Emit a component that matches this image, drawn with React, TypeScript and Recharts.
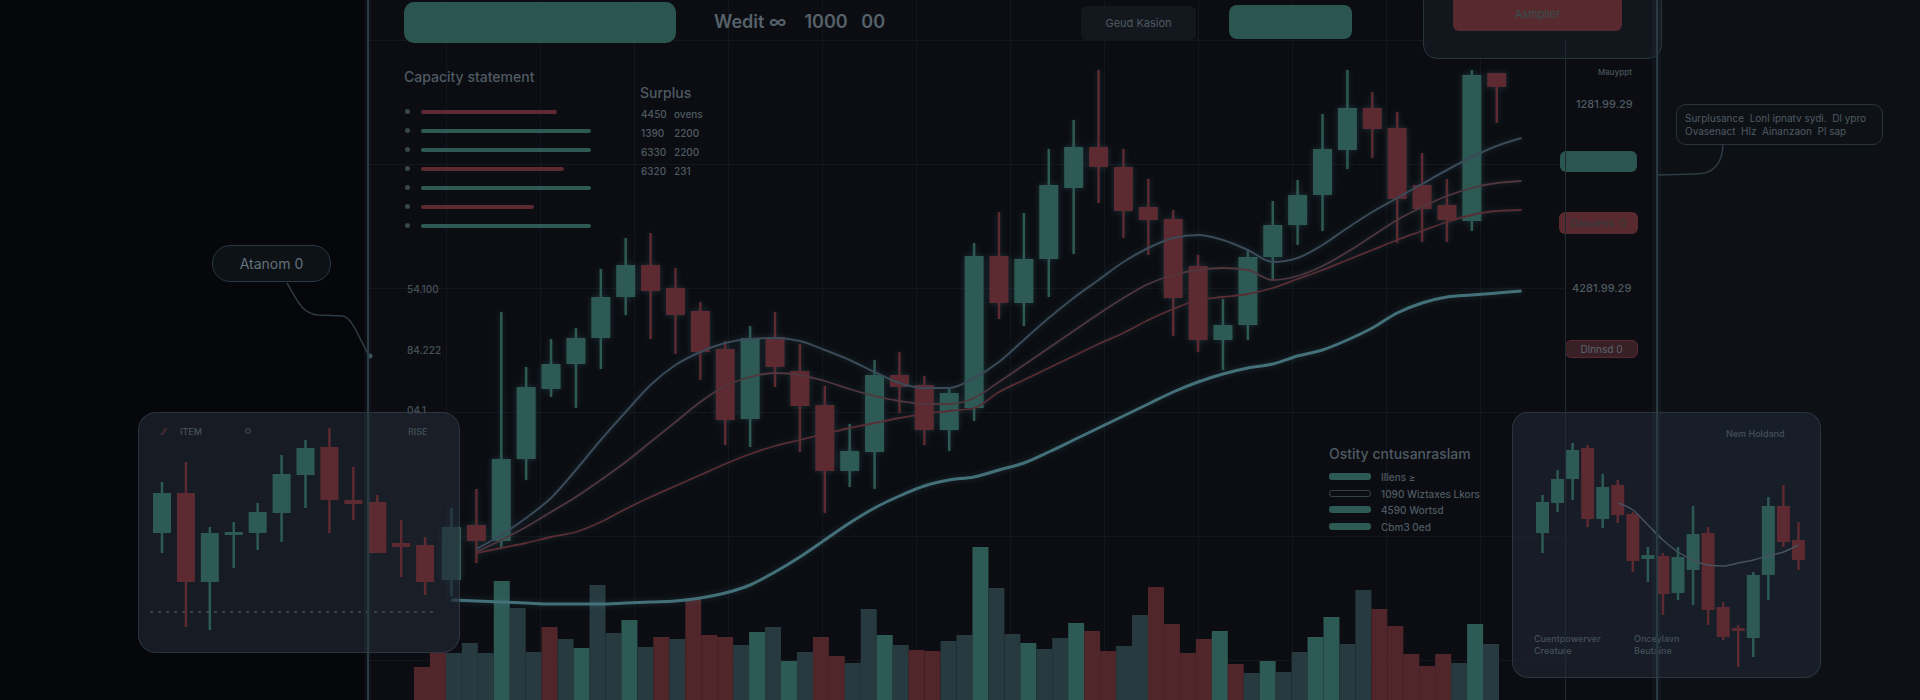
import React from 'react';
import { ComposedChart, Bar, Line, XAxis, YAxis, Cell, ReferenceLine } from 'recharts';

const GREEN = '#2d5a54';
const RED = '#5c2a30';
const SLATE = '#263a40';
const TXT = '#4f5a63';
const FONT = 'Inter, Roboto, "DejaVu Sans", sans-serif';

// main candles (price units)
const mainOpen = [120, 175, 159, 241, 311, 336, 362, 403, 435, 412, 389, 351, 281, 363, 329, 295, 229, 248, 325, 315, 270, 292, 444, 397, 441, 512, 553, 533, 493, 481, 434, 360, 375, 443, 475, 505, 550, 592, 572, 515, 495, 479, 627];
const mainClose = [173, 159, 241, 313, 336, 362, 403, 435, 409, 385, 348, 280, 362, 333, 294, 229, 249, 325, 313, 270, 307, 444, 397, 441, 515, 553, 533, 489, 480, 402, 360, 375, 443, 475, 505, 551, 592, 571, 501, 491, 480, 625, 613];
const mainHigh = [192, 211, 388, 333, 361, 372, 431, 462, 467, 432, 398, 359, 374, 388, 356, 314, 276, 340, 348, 324, 311, 457, 488, 487, 551, 580, 630, 551, 521, 490, 445, 401, 451, 499, 520, 586, 630, 608, 588, 547, 521, 630, 627];
const mainLow = [104, 137, 152, 220, 303, 292, 331, 385, 361, 346, 320, 255, 253, 313, 248, 187, 213, 211, 287, 255, 249, 279, 381, 374, 403, 446, 497, 462, 445, 364, 348, 330, 360, 420, 455, 469, 531, 542, 457, 458, 458, 469, 577];

// moving averages, one value per slot (44 slots, last one has no candle)
const maFast = [null, 151, 165, 182, 202, 230, 260, 288, 315, 335, 348, 357, 361, 362, 359, 350, 340, 328, 317, 312, 312, 322, 338, 360, 382, 402, 420, 438, 452, 462, 465, 460, 450, 438, 442, 455, 472, 488, 502, 516, 530, 543, 554, 562];
const maMid = [null, 148, 160, 173, 188, 203, 220, 238, 258, 278, 298, 314, 323, 327, 325, 319, 311, 304, 299, 296, 296, 302, 318, 335, 352, 369, 386, 402, 416, 425, 430, 432, 430, 420, 424, 434, 448, 464, 480, 493, 504, 512, 517, 519];
const maLow = [null, 147, 152, 157, 163, 168, 178, 191, 203, 214, 225, 236, 246, 254, 260, 266, 272, 277, 282, 286, 289, 292, 308, 320, 332, 344, 356, 367, 380, 391, 400, 403, 406, 412, 421, 430, 440, 450, 460, 469, 478, 485, 489, 490];
const maSlow = [100, 99, 98, 97, 96, 96, 96, 97, 98, 99, 102, 107, 115, 128, 143, 160, 177, 192, 204, 214, 220, 223, 230, 237, 248, 260, 272, 284, 296, 308, 318, 326, 332, 336, 344, 350, 360, 372, 387, 397, 403, 405, 407, 409];

// volume
const volume = [33, 47, 47, 57, 47, 119, 92, 48, 73, 61, 52, 115, 67, 80, 53, 63, 61, 102, 65, 63, 55, 68, 73, 39, 48, 63, 44, 37, 91, 65, 55, 50, 49, 59, 65, 153, 112, 66, 57, 51, 62, 77, 69, 49, 54, 85, 113, 76, 47, 61, 69, 36, 27, 39, 28, 48, 63, 83, 56, 110, 91, 74, 46, 34, 46, 37, 76, 56];
const volumeKind = 'rrxxxgxxrxgxxgxrxrrrxgxgxrrxxgxrrxxgxxgxxgrrxxrrrrgrxgxxggxxrrrrrxgx'.split('');

// left inset
const leftOpen = [167, 207, 118, 166, 167, 187, 225, 253, 200, 198, 157, 155];
const leftClose = [207, 118, 167, 168, 188, 226, 252, 200, 196, 147, 153, 118];
const leftHigh = [218, 238, 173, 178, 197, 245, 260, 272, 233, 205, 180, 163];
const leftLow = [147, 73, 70, 132, 150, 158, 192, 167, 180, 147, 123, 105];
const leftBase = 88;

// right inset
const rightOpen = [167, 197, 221, 252, 181, 215, 186, 141, 144, 107, 130, 167, 93, 72, 62, 125, 194, 160];
const rightClose = [198, 221, 250, 181, 213, 185, 139, 145, 106, 143, 166, 90, 63, 69, 125, 194, 158, 140];
const rightHigh = [205, 230, 257, 255, 226, 220, 188, 153, 147, 153, 194, 173, 98, 75, 128, 203, 215, 178];
const rightLow = [147, 188, 200, 173, 172, 177, 128, 118, 85, 100, 95, 75, 60, 33, 43, 100, 153, 130];
const rightMa = [null, null, null, null, null, 197, 190, 175, 160, 148, 140, 135, 134, 137, 140, 144, 148, 155];

const legendRows = [
  { color: RED, len: 136 },
  { color: GREEN, len: 170 },
  { color: GREEN, len: 170 },
  { color: RED, len: 143 },
  { color: GREEN, len: 170 },
  { color: RED, len: 113 },
  { color: GREEN, len: 170 },
];
const surplusRows = [['4450', 'ovens'], ['1390', '2200'], ['6330', '2200'], ['6320', '231']];
const keyRows = [
  { label: 'Illens  ≥', fill: true },
  { label: '1090  Wiztaxes  Lkors', fill: false },
  { label: '4590  Wortsd', fill: true },
  { label: 'Cbm3  0ed', fill: true },
];

const mainRows = maSlow.map((s, i) => ({
  i,
  open: mainOpen[i] ?? null,
  close: mainClose[i] ?? null,
  high: mainHigh[i] ?? null,
  low: mainLow[i] ?? null,
  maFast: maFast[i],
  maMid: maMid[i],
  maLow: maLow[i],
  maSlow: s,
}));
const volRows = volume.map((v, i) => ({ i, v, kind: volumeKind[i] }));
const leftRows = leftOpen.map((o, i) => ({ i, open: o, close: leftClose[i], high: leftHigh[i], low: leftLow[i] }));
const rightRows = rightOpen.map((o, i) => ({ i, open: o, close: rightClose[i], high: rightHigh[i], low: rightLow[i], ma: rightMa[i] }));

const range = (d: any) => (d.high == null ? null : [d.low, d.high]);

const Candle = (props: any) => {
  const { x, y, width, height, payload } = props;
  if (!payload || payload.high == null) return null;
  const { open, close, high, low } = payload;
  const k = height / (high - low || 1);
  const color = close >= open ? GREEN : RED;
  const top = y + (high - Math.max(open, close)) * k;
  const bot = y + (high - Math.min(open, close)) * k;
  const cx = x + width / 2;
  return (
    <g>
      <line x1={cx} x2={cx} y1={y} y2={y + height} stroke={color} strokeWidth={2.5} />
      <rect x={x} y={top} width={width} height={Math.max(bot - top, 3)} fill={color} />
    </g>
  );
};

const T: React.FC<{ x: number; y: number; size?: number; color?: string; weight?: number; children: React.ReactNode }> = ({
  x, y, size = 12, color = TXT, weight = 500, children,
}) => (
  <div style={{ position: 'absolute', left: x, top: y - size / 2, fontSize: size, lineHeight: 1, color, fontWeight: weight, whiteSpace: 'nowrap' }}>
    {children}
  </div>
);

const box = (s: React.CSSProperties): React.CSSProperties => ({ position: 'absolute', boxSizing: 'border-box', ...s });

export default function App() {
  return (
    <div style={{ position: 'fixed', left: 0, top: 0, width: 1920, height: 700, overflow: 'hidden', background: '#0b0d12', fontFamily: FONT }}>
      {/* background zones */}
      <div style={box({ left: 0, top: 0, width: 367, height: 700, background: '#06070a' })} />
      <div style={box({ left: 1656, top: 0, width: 264, height: 700, background: '#0d1015' })} />
      <div
        style={box({
          left: 367, top: 0, width: 1198, height: 700,
          backgroundImage:
            'linear-gradient(to right, rgba(70,85,100,0.13) 1px, transparent 1px), linear-gradient(to bottom, rgba(70,85,100,0.13) 1px, transparent 1px)',
          backgroundSize: '94px 124px',
          backgroundPosition: '79px 40px',
        })}
      />

      {/* volume */}
      <div style={{ position: 'absolute', left: 414, top: 540 }}>
        <ComposedChart width={1085} height={160} data={volRows} margin={{ top: 0, right: 0, bottom: 0, left: 0 }} barCategoryGap={0}>
          <XAxis dataKey="i" hide />
          <YAxis hide domain={[0, 160]} />
          <Bar dataKey="v" isAnimationActive={false}>
            {volRows.map((r) => (
              <Cell key={r.i} fill={r.kind === 'g' ? GREEN : r.kind === 'r' ? '#50262b' : SLATE} />
            ))}
          </Bar>
        </ComposedChart>
      </div>

      {/* main price chart */}
      <div style={{ position: 'absolute', left: 439, top: 0, filter: 'drop-shadow(0 0 3px rgba(70,130,140,0.3))' }}>
        <ComposedChart width={1095} height={700} data={mainRows} margin={{ top: 0, right: 0, bottom: 0, left: 0 }}>
          <XAxis dataKey="i" hide />
          <YAxis hide domain={[0, 700]} />
          <Line type="monotone" dataKey="maSlow" stroke="#44707a" strokeWidth={3} dot={false} isAnimationActive={false} />
          <Line type="monotone" dataKey="maLow" stroke="#5a2d34" strokeWidth={1.8} dot={false} isAnimationActive={false} />
          <Line type="monotone" dataKey="maMid" stroke="#51363e" strokeWidth={1.8} dot={false} isAnimationActive={false} />
          <Line type="monotone" dataKey="maFast" stroke="#3a4a59" strokeWidth={2} dot={false} isAnimationActive={false} />
          <Bar dataKey={range} barSize={19} shape={<Candle />} isAnimationActive={false} />
        </ComposedChart>
      </div>

      {/* top bar */}
      <div style={box({ left: 404, top: 2, width: 272, height: 41, borderRadius: 10, background: '#2a5550' })} />
      <T x={714} y={22} size={18} color="#56626b" weight={600}>Wedit ∞&nbsp;&nbsp;&nbsp;&nbsp;1000&nbsp;&nbsp;&nbsp;00</T>
      <div style={box({ left: 1081, top: 6, width: 115, height: 34, borderRadius: 6, background: '#13181e', color: TXT, fontSize: 11, display: 'flex', alignItems: 'center', justifyContent: 'center' })}>
        Geud Kasion
      </div>
      <div style={box({ left: 1229, top: 5, width: 123, height: 34, borderRadius: 8, background: '#2a5550' })} />
      <div style={box({ left: 1423, top: -12, width: 239, height: 71, borderRadius: 14, background: '#12171e', border: '1px solid #29343e' })} />
      <div style={box({ left: 1453, top: -4, width: 169, height: 35, borderRadius: 6, background: '#582a30', color: '#33504c', fontSize: 11, display: 'flex', alignItems: 'center', justifyContent: 'center' })}>
        Asmpiler
      </div>

      {/* left legend */}
      <T x={404} y={77} size={14}>Capacity statement</T>
      {legendRows.map((r, i) => (
        <React.Fragment key={i}>
          <div style={box({ left: 405, top: 109 + i * 19, width: 5, height: 5, borderRadius: 3, background: '#38474f' })} />
          <div style={box({ left: 421, top: 110 + i * 19, width: r.len, height: 4, borderRadius: 2, background: r.color })} />
        </React.Fragment>
      ))}
      <T x={640} y={93} size={14}>Surplus</T>
      {surplusRows.map((r, i) => (
        <React.Fragment key={i}>
          <T x={641} y={114 + i * 19} size={10}>{r[0]}</T>
          <T x={674} y={114 + i * 19} size={10}>{r[1]}</T>
        </React.Fragment>
      ))}
      <T x={407} y={289} size={10} color="#475159">54.100</T>
      <T x={407} y={350} size={10} color="#475159">84.222</T>
      <T x={407} y={410} size={10} color="#475159">04.1</T>

      {/* key box */}
      <T x={1329} y={454} size={14}>Ostity cntusanraslam</T>
      {keyRows.map((r, i) => (
        <React.Fragment key={i}>
          <div style={box({ left: 1329, top: 473 + i * 16.5, width: 42, height: 7, borderRadius: 3, background: r.fill ? GREEN : 'transparent', border: r.fill ? 'none' : '1px solid #36424b' })} />
          <T x={1381} y={477 + i * 16.5} size={10}>{r.label}</T>
        </React.Fragment>
      ))}

      {/* right sidebar */}
      <T x={1598} y={72} size={8} color="#4a555d">Mauyppt</T>
      <T x={1576} y={104} size={11}>1281.99.29</T>
      <div style={box({ left: 1560, top: 151, width: 77, height: 21, borderRadius: 6, background: '#2a5550' })} />
      <div style={box({ left: 1559, top: 212, width: 79, height: 22, borderRadius: 6, background: '#582a30', color: '#2e3d3c', fontSize: 10, display: 'flex', alignItems: 'center', justifyContent: 'center' })}>
        Dasumss&nbsp;&nbsp;0
      </div>
      <T x={1572} y={288} size={11}>4281.99.29</T>
      <div style={box({ left: 1565, top: 340, width: 73, height: 18, borderRadius: 6, background: '#382026', border: '1px solid #572a30', color: '#5a666f', fontSize: 10, display: 'flex', alignItems: 'center', justifyContent: 'center' })}>
        Dlnnsd&nbsp;0
      </div>
      <div style={box({ left: 1676, top: 104, width: 207, height: 41, borderRadius: 10, border: '1px solid #2a343e', background: '#0e1217', padding: '7px 8px', fontSize: 10, color: TXT, lineHeight: '13px', whiteSpace: 'nowrap' })}>
        Surplusance&nbsp; Lonl ipnatv sydi.&nbsp; Dl ypro
        <br />
        Ovasenact&nbsp; Hlz&nbsp; Ainanzaon&nbsp; Pl sap
      </div>

      {/* callout */}
      <div style={box({ left: 212, top: 245, width: 119, height: 37, borderRadius: 18, border: '1px solid #2a3842', background: '#0d1217', color: '#63707a', fontSize: 14, display: 'flex', alignItems: 'center', justifyContent: 'center' })}>
        Atanom 0
      </div>
      <svg width={1920} height={700} style={{ position: 'absolute', left: 0, top: 0 }}>
        <path d="M287 283 C 297 300, 302 314, 318 315 L 343 316 C 352 318, 358 335, 368 354" stroke="#2d3b45" strokeWidth={1.5} fill="none" />
        <circle cx={370} cy={356} r={2.5} fill="#3a535d" />
        <path d="M1723 145 C 1722 165, 1712 174, 1696 174 L 1658 175" stroke="#2d3b45" strokeWidth={1.5} fill="none" />
      </svg>

      {/* left inset */}
      <div style={box({ left: 138, top: 412, width: 322, height: 241, borderRadius: 18, background: 'rgba(34,42,54,0.62)', border: '1px solid rgba(85,100,115,0.32)' })} />
      <div style={{ position: 'absolute', left: 150, top: 412 }}>
        <ComposedChart width={287} height={241} data={leftRows} margin={{ top: 0, right: 0, bottom: 0, left: 0 }}>
          <XAxis dataKey="i" hide />
          <YAxis hide domain={[47, 288]} />
          <ReferenceLine y={leftBase} stroke="#424e58" strokeDasharray="3 5" strokeWidth={1.5} />
          <Bar dataKey={range} barSize={18} shape={<Candle />} isAnimationActive={false} />
        </ComposedChart>
      </div>
      <T x={162} y={431} size={9} color="#62323a">⁄⁄</T>
      <T x={180} y={431} size={9} color="#44505a">ITEM</T>
      <div style={box({ left: 245, top: 428, width: 6, height: 6, borderRadius: 3, border: '1px solid #44505a' })} />
      <T x={408} y={431} size={9} color="#44505a">RISE</T>

      {/* right inset */}
      <div style={box({ left: 1512, top: 412, width: 309, height: 266, borderRadius: 16, background: 'rgba(34,42,54,0.55)', border: '1px solid rgba(85,100,115,0.32)' })} />
      <div style={{ position: 'absolute', left: 1535, top: 412 }}>
        <ComposedChart width={271} height={266} data={rightRows} margin={{ top: 0, right: 0, bottom: 0, left: 0 }}>
          <XAxis dataKey="i" hide />
          <YAxis hide domain={[22, 288]} />
          <Line type="monotone" dataKey="ma" stroke="#46525e" strokeWidth={1.5} dot={false} isAnimationActive={false} />
          <Bar dataKey={range} barSize={13} shape={<Candle />} isAnimationActive={false} />
        </ComposedChart>
      </div>
      <T x={1726} y={433} size={9} color="#44505a">Nem Holdand</T>
      <T x={1534} y={638} size={9} color="#44505a">Cuentpowerver</T>
      <T x={1534} y={650} size={9} color="#44505a">Creature</T>
      <T x={1634} y={638} size={9} color="#44505a">Onceylavn</T>
      <T x={1634} y={650} size={9} color="#44505a">Beutaine</T>

      {/* vertical guides */}
      <div style={box({ left: 364, top: 0, width: 7, height: 700, background: 'rgba(70,100,110,0.09)' })} />
      <div style={box({ left: 367, top: 0, width: 1.5, height: 700, background: '#293a43' })} />
      <div style={box({ left: 1565, top: 40, width: 1, height: 660, background: '#202b33' })} />
      <div style={box({ left: 1652, top: 0, width: 9, height: 700, background: 'rgba(70,100,110,0.09)' })} />
      <div style={box({ left: 1656, top: 0, width: 1.5, height: 700, background: '#293a43' })} />
    </div>
  );
}
